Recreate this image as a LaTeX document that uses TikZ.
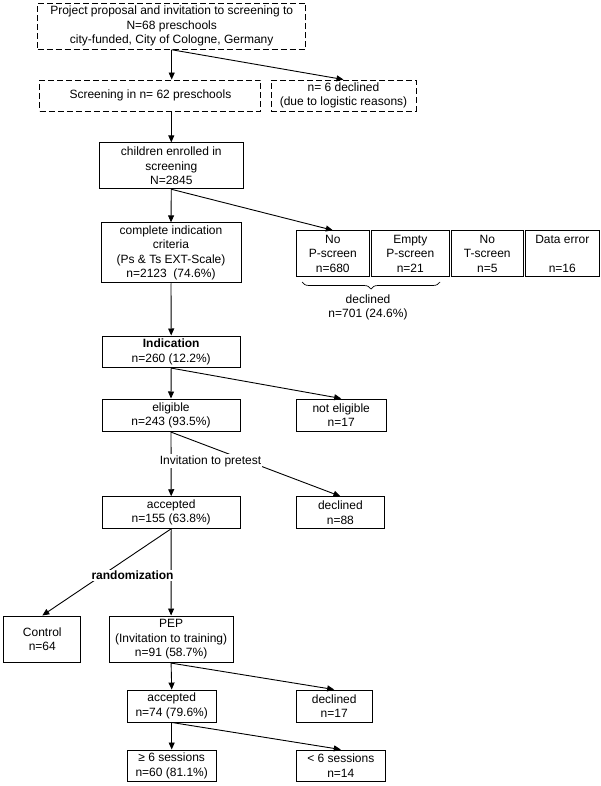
\documentclass[tikz,border=0pt]{standalone}
\usepackage{fontspec}
\setmainfont{Liberation Sans}
\usetikzlibrary{arrows.meta,decorations.pathreplacing}

\tikzset{
  box/.style={draw,line width=0.9pt,align=center,inner sep=0pt,
    font=\fontsize{12}{14.5}\selectfont},
  dbox/.style={box,dash pattern=on 6pt off 3pt},
  lab/.style={align=center,inner sep=1pt,fill=white,
    font=\fontsize{12}{14.5}\selectfont},
  flow/.style={line width=0.9pt,-{Triangle[length=7pt,width=6pt]}},
}

\begin{document}
\begin{tikzpicture}[x=1pt,y=-1pt]
  \useasboundingbox (0,0) rectangle (600,786);

  % 幼儿园筛选
  \node[dbox,minimum width=268,minimum height=46] (prop) at (171.7,26.3)
    {Project proposal and invitation to screening to\\N=68 preschools\\city-funded, City of Cologne, Germany};
  \node[dbox,minimum width=221,minimum height=31] (screen) at (150.4,95.5) {Screening in n= 62 preschools};
  \node[dbox,minimum width=145,minimum height=31] (logist) at (343.5,95.5) {n= 6 declined\\(due to logistic reasons)};

  \node[box,minimum width=144,minimum height=46] (enrol) at (171.3,165.8) {children enrolled in\\screening\\N=2845};
  \node[box,minimum width=140,minimum height=60] (compl) at (171,252.8)
    {complete indication\\criteria\\(Ps \& Ts EXT-Scale)\\n=2123~~(74.6\%)};

  % 缺失数据,四格并排
  \node[box,minimum width=73.5,minimum height=45.6] (ex1) at (332.8,253.5) {No\\P-screen\\n=680};
  \node[box,minimum width=77.5,minimum height=45.6] (ex2) at (410.3,253.5) {Empty\\P-screen\\n=21};
  \node[box,minimum width=72.5,minimum height=45.6] (ex3) at (487.3,253.5) {No\\T-screen\\n=5};
  \node[box,minimum width=73.5,minimum height=45.6] (ex4) at (562.3,253.5) {Data error\\\mbox{}\\n=16};
  \coordinate (bl) at (302,282);
  \coordinate (br) at (440,282);
  \draw[line width=0.7pt,decorate,decoration={brace,mirror,amplitude=7pt}] (bl) -- (br);
  \node[lab,fill=none] (excl) at (368,307.5) {declined\\n=701 (24.6\%)};

  \node[box,minimum width=138.4,minimum height=31.7] (indic) at (171.2,351.8) {\textbf{Indication}\\n=260 (12.2\%)};
  \node[box,minimum width=138,minimum height=32.7] (elig) at (171,415.3) {eligible\\n=243 (93.5\%)};
  \node[box,minimum width=90,minimum height=32.7] (notelig) at (341.2,415.3) {not eligible\\n=17};

  \node[box,minimum width=138.4,minimum height=31.6] (acc) at (171.2,512.5) {accepted\\n=155 (63.8\%)};
  \node[box,minimum width=88.4,minimum height=31.6] (decl) at (340.4,512.5) {declined\\n=88};

  % 随机分组
  \node[box,minimum width=77,minimum height=46.7] (ctrl) at (42.3,639.3) {Control\\n=64};
  \node[box,minimum width=123.8,minimum height=46.7] (pep) at (171.1,639.3) {PEP\\(Invitation to training)\\n=91 (58.7\%)};

  \node[box,minimum width=88.9,minimum height=32] (acc2) at (171.7,706) {accepted\\n=74 (79.6\%)};
  \node[box,minimum width=76.1,minimum height=32] (decl2) at (334.2,706) {declined\\n=17};

  \node[box,minimum width=88.9,minimum height=31.7] (sess1) at (171.7,765.8) {≥ 6 sessions\\n=60 (81.1\%)};
  \node[box,minimum width=89.2,minimum height=31.7] (sess2) at (340.8,765.8) {< 6 sessions\\n=14};

  % 箭头
  \draw[flow] (prop.south) -- (prop.south |- screen.north);
  \draw[flow] (prop.south) -- (logist.north);
  \draw[flow] (enrol.north |- screen.south) -- (enrol.north);
  \draw[flow] (enrol.south) -- (compl.north);
  \draw[flow] (enrol.south) -- (ex1.north);
  \draw[flow] (compl.south) -- (indic.north);
  \draw[flow] (indic.south) -- (elig.north);
  \draw[flow] (indic.south) -- (notelig.north);
  \draw[flow] (elig.south) -- (acc.north);
  \draw[flow] (elig.south) -- (decl.north);
  \draw[flow] (acc.south) -- (ctrl.north);
  \draw[flow] (acc.south) -- (pep.north);
  \draw[flow] (pep.south) -- (acc2.north);
  \draw[flow] (pep.south) -- (decl2.north);
  \draw[flow] (acc2.south) -- (sess1.north);
  \draw[flow] (acc2.south) -- (sess2.north);

  % 线上的说明文字
  \node[lab] (invit) at (210.5,461) {Invitation to pretest};
  \node[lab] (rand) at (132.5,575.7) {\textbf{randomization}};
\end{tikzpicture}
\end{document}
